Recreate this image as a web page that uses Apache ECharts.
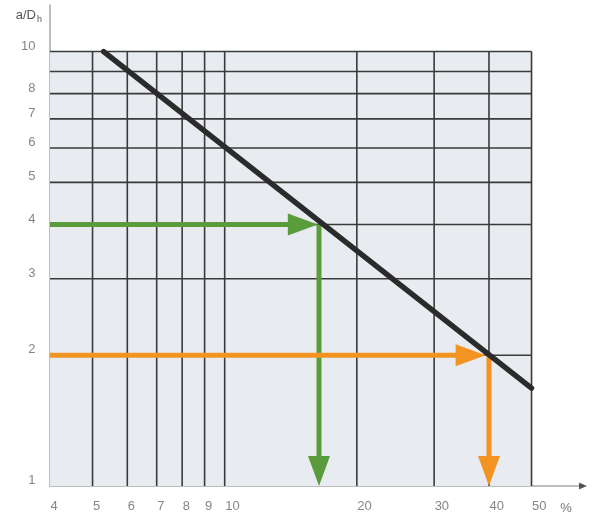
<!DOCTYPE html>
<html>
<head>
<meta charset="utf-8">
<title>a/Dh chart</title>
<script src="https://cdn.jsdelivr.net/npm/echarts@6/dist/echarts.min.js"></script>
<style>
  html, body { margin: 0; padding: 0; background: #fff; }
  #main { width: 600px; height: 519px; }
</style>
</head>
<body>
<div id="main"></div>
<script type="text/javascript">
// axis ranges (log scale), the axes run a bit past the plot box
var xMin = 4, xMax = 65.5, xPlotMax = 50;
var yMin = 1, yMax = 12.8, yPlotMax = 10;

// grid lines and tick labels
var xGrid = [5, 6, 7, 8, 9, 10, 20, 30, 40, 50];
var yGrid = [2, 3, 4, 5, 6, 7, 8, 9, 10];
var xTickLabels = [4, 5, 6, 7, 8, 9, 10, 20, 30, 40, 50];
var yTickLabels = [1, 2, 3, 4, 5, 6, 7, 8, 10];

// diagonal curve (a/Dh vs %)
var diagLine = [[5.3, 10], [50, 1.68]];

// reading arrows: [x1, y1, x2, y2]
var greenArrows = [[4, 4, 16.3, 4], [16.4, 4, 16.4, 1]];
var orangeArrows = [[4, 2, 39.3, 2], [40, 2, 40, 1]];

var gridColor = '#3a3a3a';
var green = '#5a9b3c';
var orange = '#f39322';
var labelFont = 'Liberation Sans';

var myChart = echarts.init(document.getElementById('main'));

function arrowItem(color) {
  return function (params, api) {
    var p1 = api.coord([api.value(0), api.value(1)]);
    var p2 = api.coord([api.value(2), api.value(3)]);
    var dx = p2[0] - p1[0], dy = p2[1] - p1[1];
    var len = Math.sqrt(dx * dx + dy * dy);
    var ux = dx / len, uy = dy / len;
    var L = 30, W = 11;
    var bx = p2[0] - ux * L, by = p2[1] - uy * L;
    return {
      type: 'group',
      children: [{
        type: 'line',
        shape: { x1: p1[0], y1: p1[1], x2: bx + ux * 2, y2: by + uy * 2 },
        style: { stroke: color, lineWidth: 5 }
      }, {
        type: 'polygon',
        shape: { points: [[p2[0], p2[1]], [bx - uy * W, by + ux * W], [bx + uy * W, by - ux * W]] },
        style: { fill: color }
      }]
    };
  };
}

var option = {
  animation: false,
  grid: { left: 50, right: 17, top: 5, bottom: 33 },
  xAxis: {
    type: 'log', logBase: 10, min: xMin, max: xMax,
    axisLine: { show: true, lineStyle: { color: '#a8a8a8', width: 1.5 } },
    axisTick: { show: false }, axisLabel: { show: false }, splitLine: { show: false },
    name: '%', nameLocation: 'end', nameGap: -17,
    nameTextStyle: { color: '#777', fontFamily: labelFont, fontSize: 13, align: 'center', verticalAlign: 'top', padding: [16, 0, 0, 0] }
  },
  yAxis: {
    type: 'log', logBase: 10, min: yMin, max: yMax,
    axisLine: { show: true, lineStyle: { color: '#a8a8a8', width: 1.5 } },
    axisTick: { show: false }, axisLabel: { show: false }, splitLine: { show: false },
    name: '{a|a/D}{s|h}', nameLocation: 'end', nameGap: -10,
    nameTextStyle: {
      align: 'right', verticalAlign: 'middle', padding: [0, 8, 0, 0],
      rich: {
        a: { color: '#555', fontFamily: labelFont, fontSize: 13 },
        s: { color: '#555', fontFamily: labelFont, fontSize: 9, padding: [9, 0, 0, 1] }
      }
    }
  },
  series: [{
    // plot background
    type: 'custom', silent: true, z: 1,
    data: [[xMin, yMin, xPlotMax, yPlotMax]],
    renderItem: function (params, api) {
      var a = api.coord([api.value(0), api.value(3)]);
      var b = api.coord([api.value(2), api.value(1)]);
      return { type: 'rect', shape: { x: a[0], y: a[1], width: b[0] - a[0], height: b[1] - a[1] }, style: { fill: '#e8ecf0' } };
    }
  }, {
    // vertical grid lines
    type: 'custom', silent: true, z: 2,
    data: xGrid.map(function (v) { return [v]; }),
    renderItem: function (params, api) {
      var a = api.coord([api.value(0), yMin]);
      var b = api.coord([api.value(0), yPlotMax]);
      return { type: 'line', shape: { x1: a[0], y1: a[1], x2: b[0], y2: b[1] }, style: { stroke: gridColor, lineWidth: 1.6 } };
    }
  }, {
    // horizontal grid lines
    type: 'custom', silent: true, z: 2,
    data: yGrid.map(function (v) { return [v]; }),
    renderItem: function (params, api) {
      var a = api.coord([xMin, api.value(0)]);
      var b = api.coord([xPlotMax, api.value(0)]);
      return { type: 'line', shape: { x1: a[0], y1: a[1], x2: b[0], y2: b[1] }, style: { stroke: gridColor, lineWidth: 1.6 } };
    }
  }, {
    type: 'custom', silent: true, z: 3,
    data: greenArrows,
    renderItem: arrowItem(green)
  }, {
    type: 'custom', silent: true, z: 3,
    data: orangeArrows,
    renderItem: arrowItem(orange)
  }, {
    type: 'line', silent: true, z: 4,
    data: diagLine,
    symbol: 'none',
    lineStyle: { color: '#2b2b2b', width: 5.5, cap: 'round' }
  }, {
    // x tick labels
    type: 'scatter', silent: true, z: 5,
    data: xTickLabels.map(function (v) { return [v, yMin]; }),
    symbolSize: 1, itemStyle: { color: 'rgba(0,0,0,0)' },
    label: {
      show: true, position: [1, 14], align: 'left', verticalAlign: 'top',
      formatter: function (p) { return p.value[0]; },
      color: '#666', fontFamily: labelFont, fontSize: 13
    }
  }, {
    // y tick labels
    type: 'scatter', silent: true, z: 5,
    data: yTickLabels.map(function (v) { return [xMin, v]; }),
    symbolSize: 1, itemStyle: { color: 'rgba(0,0,0,0)' },
    label: {
      show: true, position: [-14, -5], align: 'right', verticalAlign: 'middle',
      formatter: function (p) { return p.value[1]; },
      color: '#666', fontFamily: labelFont, fontSize: 13
    }
  }, {
    // arrow head of the x axis
    type: 'scatter', silent: true, z: 5,
    data: [[xMax, yMin]],
    symbol: 'triangle', symbolRotate: -90, symbolSize: [7, 8],
    itemStyle: { color: '#333' }
  }]
};

myChart.setOption(option);
</script>
</body>
</html>
